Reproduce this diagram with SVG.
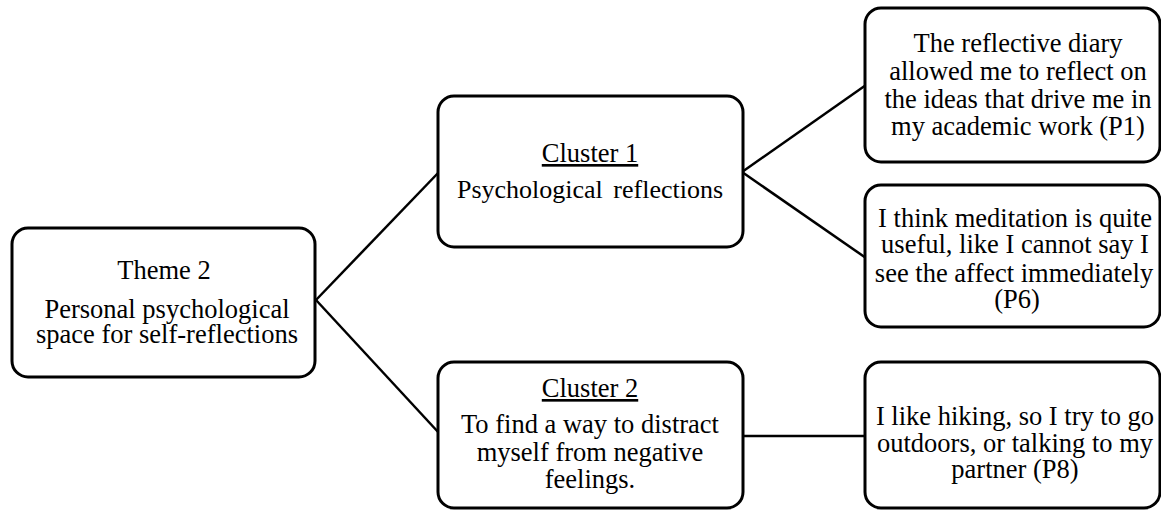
<svg xmlns="http://www.w3.org/2000/svg" width="1161" height="511" viewBox="0 0 1161 511">
<style>
.box{fill:#fff;stroke:#000;stroke-width:3}
.conn line{stroke:#000;stroke-width:2.5}
.t{font-family:'Liberation Serif','Times New Roman',serif;font-size:26.5px;fill:#000;text-anchor:middle}
.u{text-decoration:underline}
</style>
<rect width="1161" height="511" fill="#fff"/>
<g class="conn">
<line x1="316" y1="300" x2="439" y2="172"/>
<line x1="316" y1="300" x2="439" y2="433"/>
<line x1="742" y1="172" x2="866" y2="85"/>
<line x1="742" y1="172" x2="866" y2="258"/>
<line x1="742" y1="436" x2="866" y2="436"/>
</g>
<g id="theme" class="t">
<rect class="box" x="12" y="228" width="303" height="149" rx="16"/>
<text x="164" y="279">Theme 2</text>
<text x="167" y="318">Personal psychological</text>
<text x="167" y="343">space for self-reflections</text>
</g>
<g id="cluster1" class="t">
<rect class="box" x="438" y="96" width="305" height="151" rx="16"/>
<text x="590" y="162" class="u">Cluster 1</text>
<text x="590" y="198" font-size="26" word-spacing="4">Psychological reflections</text>
</g>
<g id="cluster2" class="t">
<rect class="box" x="438" y="362" width="305" height="146" rx="16"/>
<text x="590" y="397" class="u">Cluster 2</text>
<text x="590" y="433">To find a way to distract</text>
<text x="590" y="461">myself from negative</text>
<text x="590" y="488">feelings.</text>
</g>
<g id="quote1" class="t">
<rect class="box" x="865" y="8" width="295" height="154" rx="16"/>
<text x="1018" y="52">The reflective diary</text>
<text x="1018" y="80">allowed me to reflect on</text>
<text x="1018" y="108">the ideas that drive me in</text>
<text x="1018" y="135">my academic work (P1)</text>
</g>
<g id="quote2" class="t">
<rect class="box" x="865" y="185" width="295" height="142" rx="16"/>
<text x="1015" y="227">I think meditation is quite</text>
<text x="1015" y="253">useful, like I cannot say I</text>
<text x="1014" y="282">see the affect immediately</text>
<text x="1017" y="308">(P6)</text>
</g>
<g id="quote3" class="t">
<rect class="box" x="865" y="362" width="295" height="146" rx="16"/>
<text x="1015" y="425">I like hiking, so I try to go</text>
<text x="1015" y="452">outdoors, or talking to my</text>
<text x="1015" y="478">partner (P8)</text>
</g>
</svg>
